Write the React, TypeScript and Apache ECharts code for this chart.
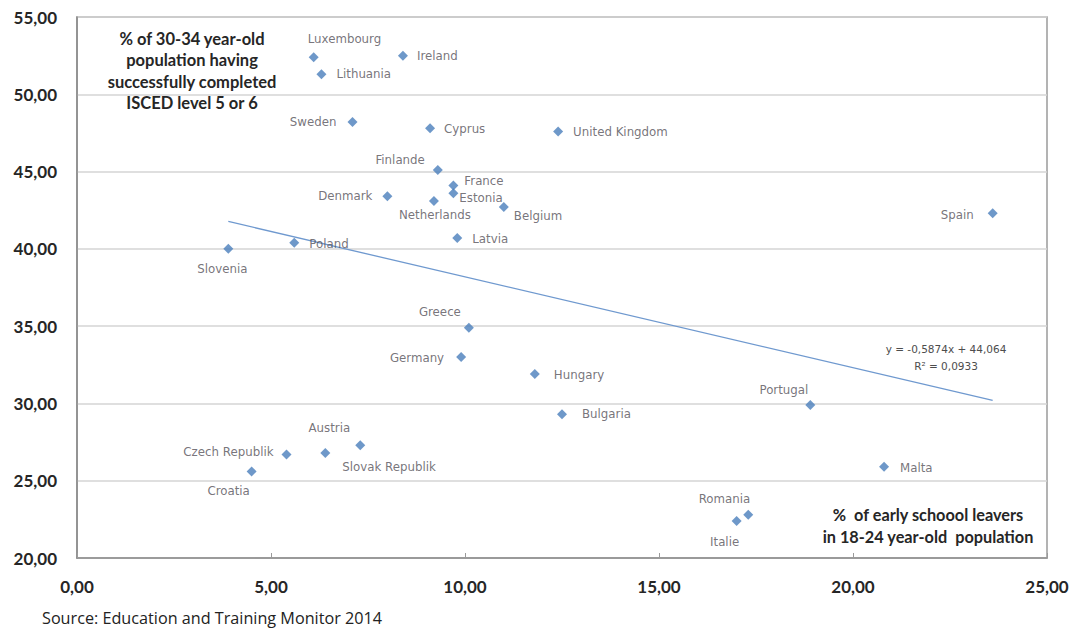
import React, { useEffect, useRef } from "react";
import * as echarts from "echarts";

// ---- data ----
const countries = [
  "Luxembourg", "Ireland", "Lithuania", "Sweden", "Cyprus", "United Kingdom",
  "Finlande", "France", "Estonia", "Denmark", "Netherlands", "Belgium",
  "Latvia", "Poland", "Slovenia", "Greece", "Germany", "Hungary",
  "Bulgaria", "Slovak Republik", "Austria", "Czech Republik", "Croatia",
  "Spain", "Portugal", "Malta", "Romania", "Italie",
];
const earlyLeavers = [
  6.1, 8.4, 6.3, 7.1, 9.1, 12.4,
  9.3, 9.7, 9.7, 8.0, 9.2, 11.0,
  9.8, 5.6, 3.9, 10.1, 9.9, 11.8,
  12.5, 7.3, 6.4, 5.4, 4.5,
  23.6, 18.9, 20.8, 17.3, 17.0,
];
const tertiary = [
  52.4, 52.5, 51.3, 48.2, 47.8, 47.6,
  45.1, 44.1, 43.6, 43.4, 43.1, 42.7,
  40.7, 40.4, 40.0, 34.9, 33.0, 31.9,
  29.3, 27.3, 26.8, 26.7, 25.6,
  42.3, 29.9, 25.9, 22.8, 22.4,
];
const trendSlope = -0.5874;
const trendIntercept = 44.064;
const xTicks = { min: 0, max: 25, interval: 5 };
const yTicks = { min: 20, max: 55, interval: 5 };

// ---- label placement (layout only): [dx, dy, align] relative to marker centre ----
const labelPlace: Record<string, [number, number, string]> = {
  Luxembourg: [-6, -18, "left"],
  Ireland: [14, 0, "left"],
  Lithuania: [15, 0, "left"],
  Sweden: [-16, 0, "right"],
  Cyprus: [14, 1, "left"],
  "United Kingdom": [15, 1, "left"],
  Finlande: [-13, -10, "right"],
  France: [11, -4, "left"],
  Estonia: [6, 5, "left"],
  Denmark: [-15, 0, "right"],
  Netherlands: [1, 14, "center"],
  Belgium: [10, 9, "left"],
  Latvia: [15, 1, "left"],
  Poland: [15, 1, "left"],
  Slovenia: [-6, 20, "center"],
  Greece: [-8, -16, "right"],
  Germany: [-17, 1, "right"],
  Hungary: [19, 1, "left"],
  Bulgaria: [20, 0, "left"],
  "Slovak Republik": [-18, 22, "left"],
  Austria: [4, -25, "center"],
  "Czech Republik": [-13, -2, "right"],
  Croatia: [-23, 20, "center"],
  Spain: [-19, 2, "right"],
  Portugal: [-2, -15, "right"],
  Malta: [16, 1, "left"],
  Romania: [2, -16, "right"],
  Italie: [-12, 21, "center"],
};

const fmt = (v: number) => v.toFixed(2).replace(".", ",");

export default function App() {
  const ref = useRef<HTMLDivElement>(null);
  useEffect(() => {
    if (!ref.current) return;
    const chart = echarts.init(ref.current, undefined, { renderer: "svg" });
    const SYM = 10;
    const points = countries.map((name, i) => {
      const [dx, dy, align] = labelPlace[name] || [12, 0, "left"];
      return {
        name,
        value: [earlyLeavers[i], tertiary[i]],
        label: {
          show: true,
          formatter: name,
          position: [SYM / 2 + dx, SYM / 2 + dy],
          align,
          verticalAlign: "middle",
        },
      };
    });
    const xMin = Math.min(...earlyLeavers);
    const xMax = Math.max(...earlyLeavers);
    const trend = [
      [xMin, trendIntercept + trendSlope * xMin],
      [xMax, trendIntercept + trendSlope * xMax],
    ];
    const axisLabelStyle = {
      fontFamily: "Lato",
      fontWeight: "bold",
      fontSize: 17,
      color: "#262626",
      formatter: (v: number) => fmt(v),
    };
    chart.setOption({
      animation: false,
      backgroundColor: "#ffffff",
      grid: {
        left: 77,
        right: 27,
        top: 17,
        bottom: 74,
        show: true,
        borderColor: "#9a9a9a",
        borderWidth: 1.5,
      },
      xAxis: {
        type: "value",
        ...xTicks,
        axisLine: { show: true, lineStyle: { color: "#8a8a8a", width: 1.5 } },
        axisTick: { show: true, inside: true, length: 5, lineStyle: { color: "#9a9a9a" } },
        splitLine: { show: false },
        axisLabel: { ...axisLabelStyle, margin: 20 },
      },
      yAxis: {
        type: "value",
        ...yTicks,
        axisLine: { show: true, lineStyle: { color: "#8a8a8a", width: 1.5 } },
        axisTick: { show: false },
        splitLine: { show: true, lineStyle: { color: "#d4d4d4", width: 1.5 } },
        axisLabel: { ...axisLabelStyle, margin: 20 },
      },
      series: [
        {
          type: "line",
          data: trend,
          symbol: "none",
          lineStyle: { color: "#6f99cf", width: 1.3 },
          silent: true,
          z: 1,
        },
        {
          type: "scatter",
          data: points,
          symbol: "diamond",
          symbolSize: SYM,
          itemStyle: { color: "#4a7ebb" },
          label: {
            fontFamily: "DejaVu Sans",
            fontSize: 11.8,
            color: "#545058",
          },
          z: 3,
        },
      ],
      graphic: [
        {
          type: "text",
          x: 192,
          y: 28,
          style: {
            text: "% of 30-34 year-old\npopulation having\nsuccessfully completed\nISCED level 5 or 6",
            fontFamily: "Lato",
            fontWeight: "bold",
            fontSize: 16.5,
            lineHeight: 21.5,
            fill: "#262626",
            align: "center",
          },
        },
        {
          type: "text",
          x: 928,
          y: 503,
          style: {
            text: "%  of early schoool leavers\nin 18-24 year-old  population",
            fontFamily: "Lato",
            fontWeight: "bold",
            fontSize: 16.3,
            lineHeight: 22,
            fill: "#262626",
            align: "center",
          },
        },
        {
          type: "text",
          x: 946,
          y: 340,
          style: {
            text: "y = -0,5874x + 44,064\nR² = 0,0933",
            fontFamily: "DejaVu Sans",
            fontSize: 10.5,
            lineHeight: 17,
            fill: "#4d4d4d",
            align: "center",
          },
        },
        {
          type: "text",
          x: 42,
          y: 610,
          style: {
            text: "Source: Education and Training Monitor 2014",
            fontFamily: "Open Sans",
            fontSize: 16.2,
            fill: "#222222",
          },
        },
      ],
    });
    return () => chart.dispose();
  }, []);
  return (
    <div
      ref={ref}
      style={{ position: "fixed", left: 0, top: 0, width: 1074, height: 632, background: "#fff" }}
    />
  );
}
